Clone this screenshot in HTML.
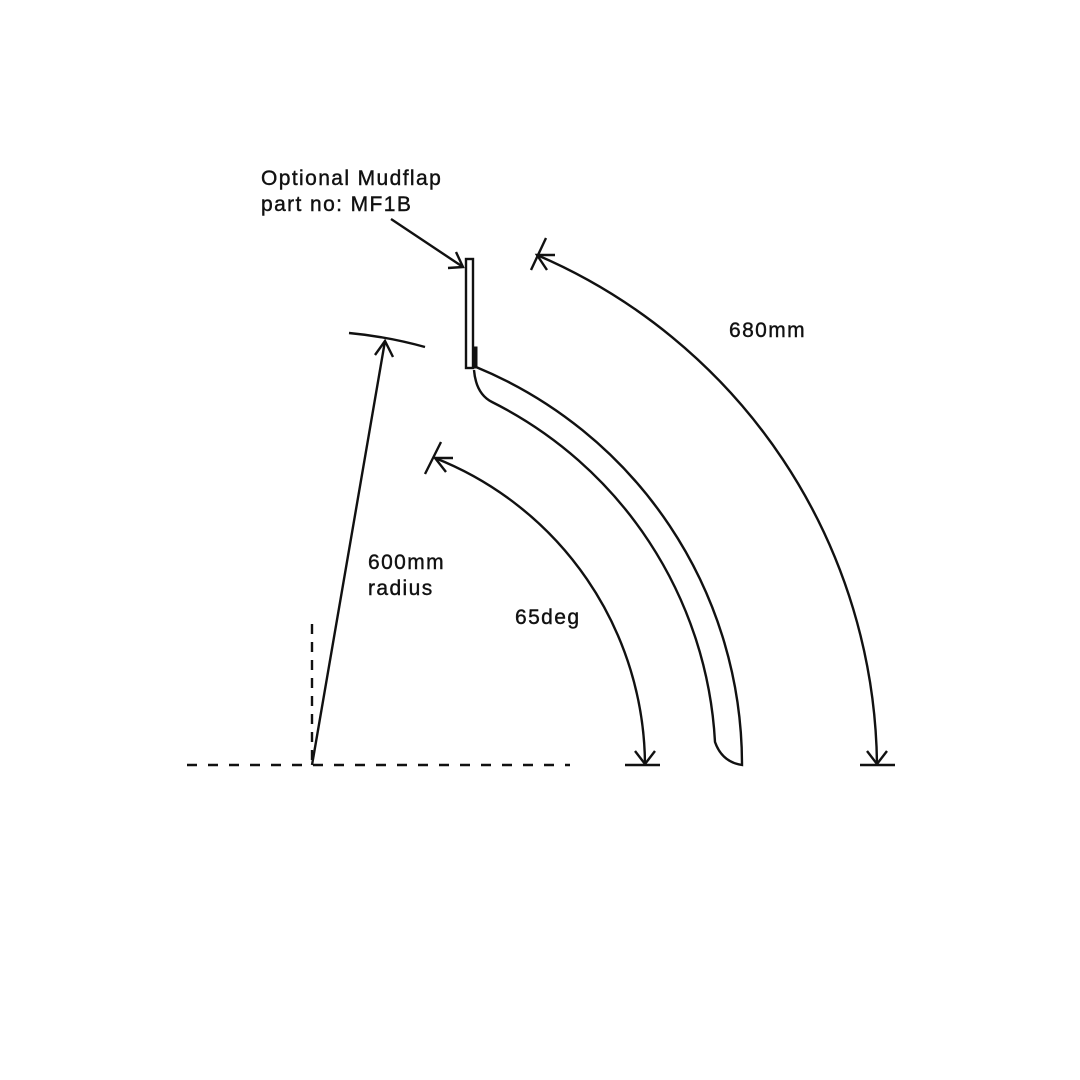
<!DOCTYPE html>
<html><head><style>body{margin:0;background:#fff}svg{display:block}text{font-family:"Liberation Sans",sans-serif;font-size:21px;fill:#111;letter-spacing:1.4px;stroke:#111;stroke-width:0.4px}</style></head>
<body><svg width="1080" height="1080" viewBox="0 0 1080 1080" fill="none" stroke="#111" stroke-width="2.4">
<rect x="0" y="0" width="1080" height="1080" fill="#fff" stroke="none"/>
<line x1="187" y1="765" x2="570" y2="765" stroke-dasharray="10 11"/>
<line x1="312" y1="624" x2="312" y2="765" stroke-dasharray="10 8"/>
<line x1="312" y1="765" x2="385" y2="341"/>
<path d="M375 355 L385 341 L393 357"/>
<path d="M349 333 A431 431 0 0 1 425 347"/>
<path d="M645 765 A332 332 0 0 0 435 458"/>
<path d="M453 458 L435 458 L446 472" />
<line x1="425" y1="474" x2="441" y2="442"/>
<line x1="625" y1="765" x2="660" y2="765"/>
<path d="M635 751 L645 764 L655 751"/>
<path d="M877 765 A561 561 0 0 0 537 255"/>
<path d="M555 255 L537 255 L547 270"/>
<line x1="531" y1="270" x2="546" y2="238"/>
<line x1="860" y1="765" x2="895" y2="765"/>
<path d="M867 751 L877 764 L887 751"/>
<rect x="466" y="259" width="7" height="109"/>
<rect x="474" y="347" width="3" height="21" fill="#111" stroke-width="1"/>
<path d="M476 367 A430 430 0 0 1 742 765 Q722 762 715 742 A405 405 0 0 0 492 402 Q476 394 474 370"/>
<line x1="391" y1="219" x2="463" y2="267"/>
<path d="M448 268 L463 267 L456 252"/>
<g>
<text x="261" y="185">Optional Mudflap</text>
<text x="261" y="211">part no: MF1B</text>
<text x="729" y="337">680mm</text>
<text x="368" y="569">600mm</text>
<text x="368" y="595">radius</text>
<text x="515" y="624">65deg</text>
</g>
</svg></body></html>
